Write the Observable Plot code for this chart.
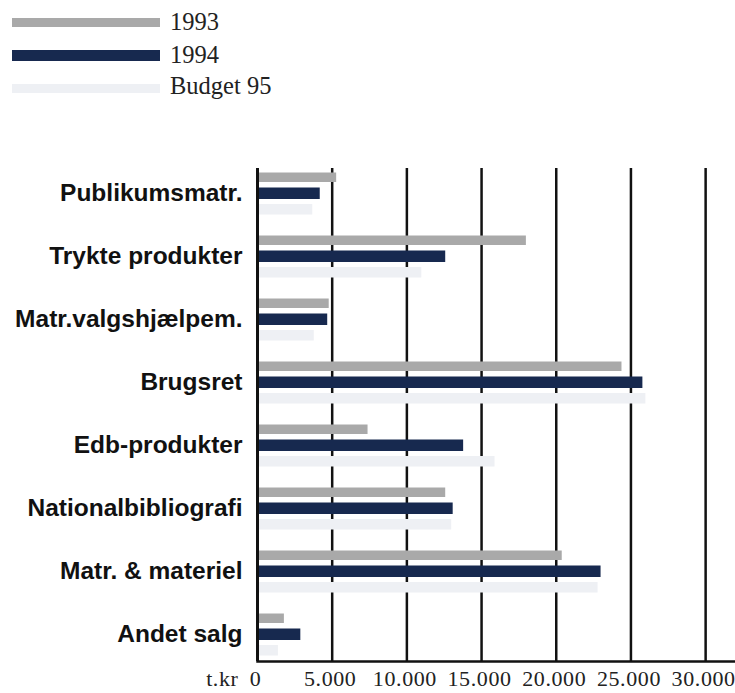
<!DOCTYPE html>
<html><head><meta charset="utf-8">
<script src="https://cdn.jsdelivr.net/npm/d3@7"></script>
<script src="https://cdn.jsdelivr.net/npm/@observablehq/plot@0.6"></script>
<style>
body{margin:0;background:#fff;}
#legend{position:relative;height:110px;width:735px;font-family:"Liberation Serif",serif;font-size:24.5px;color:#222;}
.sw{position:absolute;left:12px;width:148px;}
.lb{position:absolute;left:170px;line-height:1;white-space:nowrap;}
#chart svg{display:block;}
g[aria-label="x-axis tick label"] text, g[aria-label="text"] text{letter-spacing:0.6px;}
</style></head><body>
<div id="legend"></div>
<div id="chart"></div>
<script>
const categories = ["Publikumsmatr.","Trykte produkter","Matr.valgshjælpem.","Brugsret","Edb-produkter","Nationalbibliografi","Matr. & materiel","Andet salg"];
const series = ["1993","1994","Budget 95"];
const v1993 = [5300, 18000, 4800, 24400, 7400, 12600, 20400, 1800];
const v1994 = [4200, 12600, 4700, 25800, 13800, 13100, 23000, 2900];
const vBudget = [3700, 11000, 3800, 26000, 15900, 13000, 22800, 1400];
const xTicks = [0, 5000, 10000, 15000, 20000, 25000, 30000];
const xTickLabels = ["0","5.000","10.000","15.000","20.000","25.000","30.000"];
const unitLabel = "t.kr";
const colors = ["#a9a9a9","#17294f","#eef0f4"];

// legend
const legend = document.getElementById("legend");
const swTop = [18, 50, 84], swH = [9, 11, 9], lbTop = [10, 43, 74];
series.forEach((s, i) => {
  const sw = document.createElement("div");
  sw.className = "sw";
  sw.style.top = swTop[i] + "px";
  sw.style.height = swH[i] + "px";
  sw.style.background = colors[i];
  legend.appendChild(sw);
  const lb = document.createElement("div");
  lb.className = "lb";
  lb.style.top = lbTop[i] + "px";
  lb.textContent = s;
  legend.appendChild(lb);
});

const data = categories.map((c, i) => ({category: c, v1993: v1993[i], v1994: v1994[i], vBudget: vBudget[i]}));
const serif = "Liberation Serif, serif";
const sans = "Liberation Sans, Arial, sans-serif";

const chart = Plot.plot({
  width: 735, height: 583,
  marginLeft: 257, marginRight: 0, marginTop: 58, marginBottom: 32,
  x: {domain: [0, 32000]},
  y: {domain: categories, range: [49, 557], padding: 0},
  marks: [
    Plot.ruleX(xTicks.slice(1), {stroke: "#111", strokeWidth: 2.5}),
    Plot.barX(data, {x: "v1993", y: "category", fill: colors[0], insetTop: 11.5, insetBottom: 42}),
    Plot.barX(data, {x: "v1994", y: "category", fill: colors[1], insetTop: 26.5, insetBottom: 25}),
    Plot.barX(data, {x: "vBudget", y: "category", fill: colors[2], insetTop: 43, insetBottom: 9.5}),
    Plot.ruleX([0], {stroke: "#111", strokeWidth: 3}),
    Plot.frame({anchor: "bottom", stroke: "#111", strokeWidth: 2.5}),
    Plot.axisX({ticks: xTicks, tickFormat: d => xTickLabels[xTicks.indexOf(d)], tickSize: 0, tickPadding: 9,
      dx: -2, fontSize: 22, fontFamily: serif, fill: "#222", label: null}),
    Plot.axisY({tickSize: 0, tickPadding: 15, fontSize: 24.5, fontWeight: "bold", fontFamily: sans, fill: "#111", label: null}),
    Plot.text([unitLabel], {frameAnchor: "bottom-left", textAnchor: "end", lineAnchor: "top", dx: -19, dy: 9,
      fontSize: 22, fontFamily: serif, fill: "#222"})
  ]
});
document.getElementById("chart").appendChild(chart);
</script>
</body></html>
